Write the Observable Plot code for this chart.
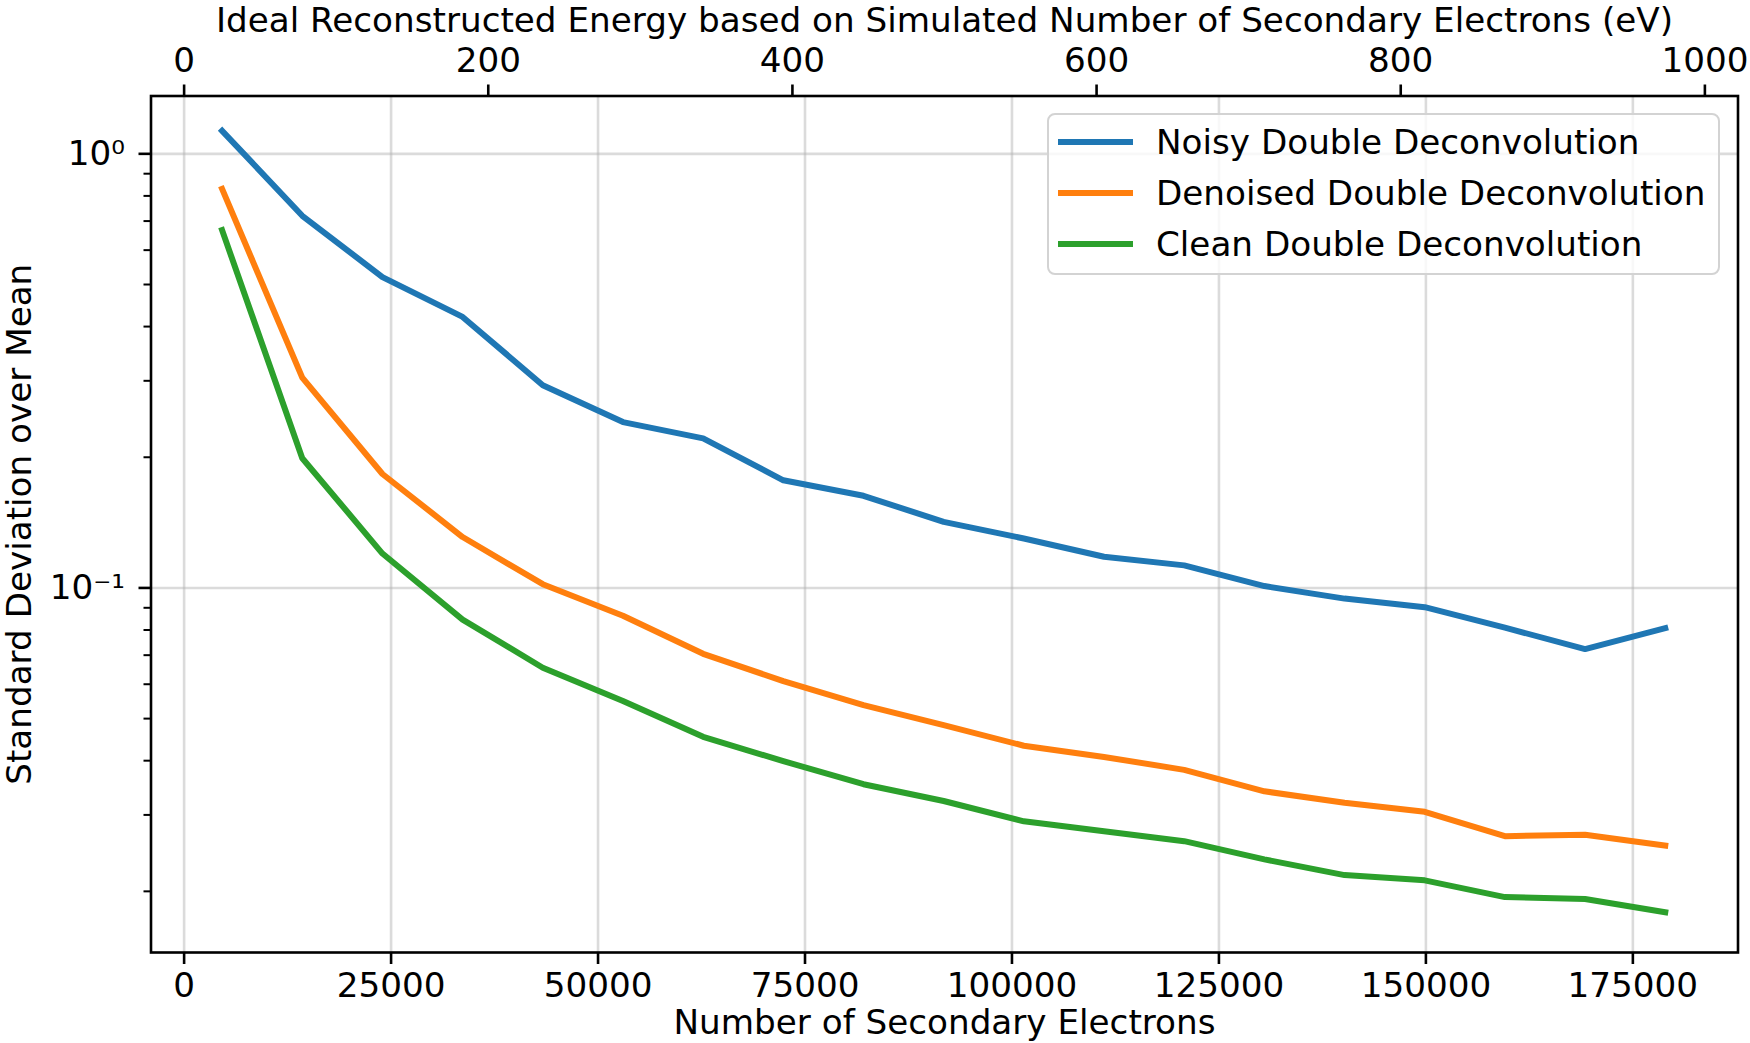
<!DOCTYPE html>
<html>
<head>
<meta charset="utf-8">
<script src="https://cdn.jsdelivr.net/npm/d3@7"></script>
<script src="https://cdn.jsdelivr.net/npm/@observablehq/plot@0.6"></script>
<style>
  html, body { margin: 0; padding: 0; background: #ffffff; }
  #wrap { position: relative; width: 1750px; height: 1043px; font-family: "DejaVu Sans", sans-serif; }
  #legend { position: absolute; box-sizing: border-box; background: rgba(255,255,255,0.8);
            border: 2px solid #d3d3d3; border-radius: 8px; }
  .sw { position: absolute; height: 6px; }
  .lt { position: absolute; white-space: nowrap; font-size: 34.2px; line-height: 1; color: #000; transform: translateY(-50%); }
</style>
</head>
<body>
<div id="wrap"></div>
<script>
// ---- data ----
const electrons = [4588, 14272, 23957, 33641, 43326, 53011, 62696, 72380, 82065, 91750,
                   101435, 111120, 120804, 130489, 140174, 149858, 159543, 169228, 178913];
const noisy    = [1.13, 0.72, 0.52, 0.421, 0.293, 0.241, 0.221, 0.177, 0.163, 0.142,
                  0.130, 0.118, 0.1127, 0.101, 0.0945, 0.0903, 0.081, 0.0723, 0.0808];
const denoised = [0.83, 0.305, 0.183, 0.131, 0.102, 0.0863, 0.0705, 0.061, 0.0537, 0.0483,
                  0.0433, 0.0408, 0.0381, 0.034, 0.032, 0.0305, 0.0268, 0.027, 0.0255];
const clean    = [0.667, 0.199, 0.120, 0.0845, 0.0655, 0.0549, 0.0454, 0.0399, 0.0353, 0.0323,
                  0.029, 0.0275, 0.0261, 0.0237, 0.0218, 0.0212, 0.0194, 0.0192, 0.0179];
const seriesNames  = ["Noisy Double Deconvolution", "Denoised Double Deconvolution", "Clean Double Deconvolution"];
const seriesColors = ["#1f77b4", "#ff7f0e", "#2ca02c"];
const xTicks   = [0, 25000, 50000, 75000, 100000, 125000, 150000, 175000];
const topTicksEV = [0, 200, 400, 600, 800, 1000];
const electronsPerEV = 183.7;
const yMajor = [1, 0.1];
const yMajorLabels = ["10⁰", "10⁻¹"];
const yMinor = [0.02, 0.03, 0.04, 0.05, 0.06, 0.07, 0.08, 0.09, 0.2, 0.3, 0.4, 0.5, 0.6, 0.7, 0.8, 0.9];
const xLabel = "Number of Secondary Electrons";
const topLabel = "Ideal Reconstructed Energy based on Simulated Number of Secondary Electrons (eV)";
const yLabel = "Standard Deviation over Mean";

// tidy table
const allSeries = [noisy, denoised, clean];
const rows = [];
allSeries.forEach((vals, s) => vals.forEach((v, i) => rows.push({x: electrons[i], y: v, series: seriesNames[s]})));

const FS = 34.2;
const chart = Plot.plot({
  width: 1750,
  height: 1043,
  marginLeft: 150.5,
  marginRight: 12.5,
  marginTop: 95.5,
  marginBottom: 91,
  style: {fontFamily: "DejaVu Sans, sans-serif", fontSize: FS + "px", background: "#ffffff", color: "#000000"},
  x: {domain: [-4000, 187700], axis: null},
  y: {type: "log", domain: [0.01446, 1.359], axis: null},
  color: {domain: seriesNames, range: seriesColors},
  marks: [
    Plot.gridX(xTicks, {stroke: "#b0b0b0", strokeOpacity: 0.45, strokeWidth: 2.6}),
    Plot.gridY(yMajor, {stroke: "#b0b0b0", strokeOpacity: 0.45, strokeWidth: 2.6}),
    Plot.line(rows, {x: "x", y: "y", z: "series", stroke: "series", strokeWidth: 6,
                     strokeLinejoin: "round", strokeLinecap: "square"}),
    Plot.frame({stroke: "#000000", strokeWidth: 2.6}),
    // bottom axis
    Plot.axisX({anchor: "bottom", ticks: xTicks, tickSize: 12, tickPadding: 8, strokeWidth: 2.6,
                tickFormat: d => String(d), label: null, fontSize: FS}),
    // top (energy) axis
    Plot.axisX({anchor: "top", ticks: topTicksEV.map(e => e * electronsPerEV), tickSize: 12, tickPadding: 12,
                strokeWidth: 2.6, tickFormat: d => String(Math.round(d / electronsPerEV)), label: null, fontSize: FS}),
    // y axis major
    Plot.axisY({anchor: "left", ticks: yMajor, tickSize: 12, tickPadding: 14, strokeWidth: 2.6,
                tickFormat: d => yMajorLabels[yMajor.indexOf(d)], label: null, fontSize: FS}),
    // y axis minor
    Plot.axisY({anchor: "left", ticks: yMinor, tickSize: 7, strokeWidth: 2, tickFormat: () => "", label: null}),
    // axis titles
    Plot.text([xLabel], {text: d => d, frameAnchor: "bottom", dy: 71, lineAnchor: "middle", textAnchor: "middle", fontSize: FS}),
    Plot.text([topLabel], {text: d => d, frameAnchor: "top", dy: -75, lineAnchor: "middle", textAnchor: "middle", fontSize: FS}),
    Plot.text([yLabel], {text: d => d, frameAnchor: "left", dx: -131, rotate: -90, lineAnchor: "middle", textAnchor: "middle", fontSize: FS})
  ]
});

const wrap = document.getElementById("wrap");
wrap.appendChild(chart);

// legend overlay
const legend = document.createElement("div");
legend.id = "legend";
Object.assign(legend.style, {left: "1047px", top: "113px", width: "673px", height: "162px"});
wrap.appendChild(legend);
const rowCenters = [141.5, 192.5, 243.5];
seriesNames.forEach((name, i) => {
  const sw = document.createElement("div");
  sw.className = "sw";
  Object.assign(sw.style, {left: (1058 - 1047 - 2) + "px", width: "75px",
    top: (rowCenters[i] - 113 - 2 - 3) + "px", background: seriesColors[i]});
  legend.appendChild(sw);
  const t = document.createElement("div");
  t.className = "lt";
  t.textContent = name;
  Object.assign(t.style, {left: (1156 - 1047 - 2) + "px", top: (rowCenters[i] - 113 - 2) + "px"});
  legend.appendChild(t);
});
</script>
</body>
</html>
